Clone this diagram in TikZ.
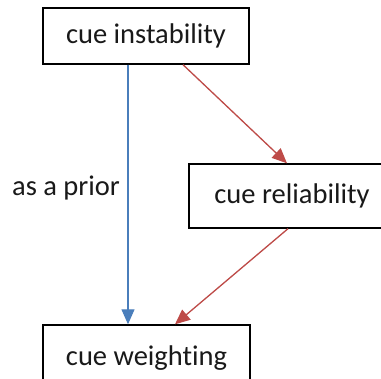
\documentclass[tikz,border=0pt]{standalone}
\usepackage{fontspec}
\setmainfont{Carlito}[Ligatures=NoCommon]
\usetikzlibrary{arrows.meta,calc}
\definecolor{linkblue}{HTML}{4A7EBB}
\definecolor{linkred}{HTML}{BE4B48}
\tikzset{
  label text/.style={font=\fontsize{28.5}{32}\selectfont, text=black!90},
  box/.style={draw=black, line width=1.4pt, fill=white, inner sep=0pt, label text},
  link/.style={line width=1.3pt, -{Triangle[length=15pt,width=13pt]}},
}
\begin{document}
\begin{tikzpicture}[x=1pt,y=-1pt]
  \useasboundingbox (0,0) rectangle (381,379);
  \fill[white] (0,0) rectangle (381,379);

  \node[box, minimum width=206pt, minimum height=56pt] (inst) at (146,36) {cue instability};
  \node[box, minimum width=206pt, minimum height=64pt] (rel) at (292,196) {cue reliability};
  \node[box, minimum width=207pt, minimum height=66pt] (wt) at (146.5,358) {cue weighting};

  \node[label text] (prior) at (66,188) {as a prior};

  \coordinate (bx) at (128,0);
  \coordinate (ra) at (183,0);
  \coordinate (rb) at (287,0);
  \coordinate (rc) at (288,0);
  \coordinate (rd) at (175,0);

  \draw[link, draw=linkblue, fill=linkblue] (inst.south -| bx) -- (wt.north -| bx);
  \draw[link, draw=linkred, fill=linkred] (inst.south -| ra) -- (rel.north -| rb);
  \draw[link, draw=linkred, fill=linkred] (rel.south -| rc) -- (wt.north -| rd);
\end{tikzpicture}
\end{document}
